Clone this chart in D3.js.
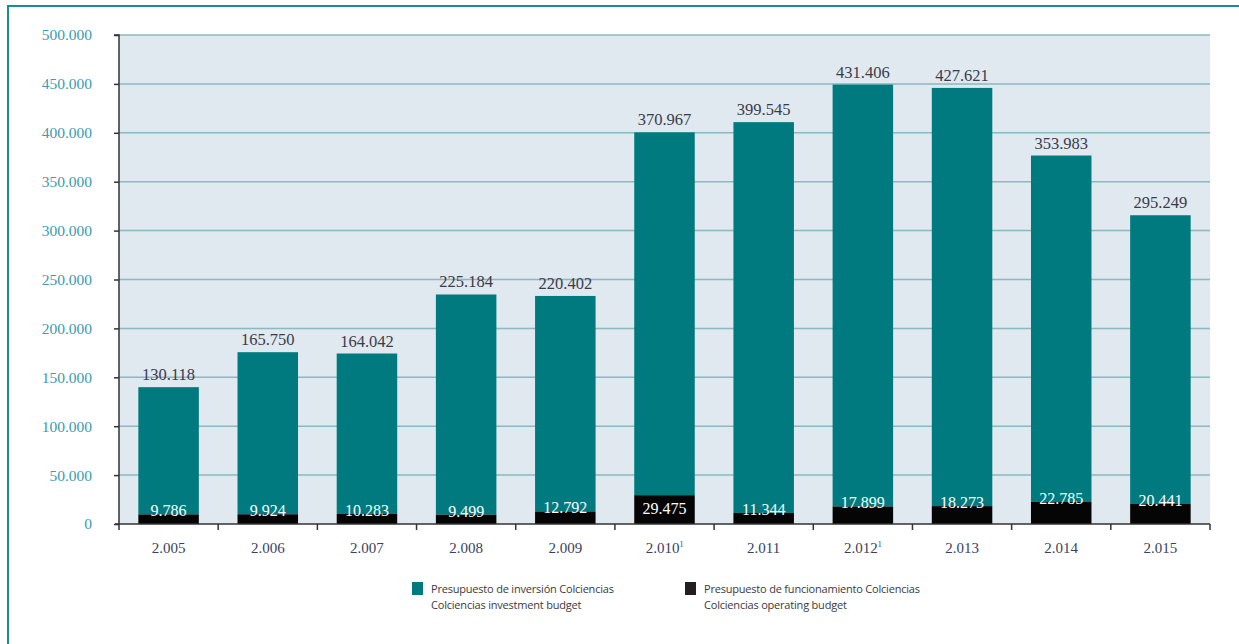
<!DOCTYPE html>
<html><head><meta charset="utf-8">
<script src="https://cdn.jsdelivr.net/npm/d3@7"></script>
<style>body{margin:0;background:#fff}svg{display:block}</style>
</head><body>
<svg id="c" width="1239" height="644"></svg>
<script>
const years = ["2.005","2.006","2.007","2.008","2.009","2.010","2.011","2.012","2.013","2.014","2.015"];
const yearNotes = ["","","","","","1","","1","","",""];
const investment = [130118,165750,164042,225184,220402,370967,399545,431406,427621,353983,295249];
const operating = [9786,9924,10283,9499,12792,29475,11344,17899,18273,22785,20441];
const yTicks = [0,50000,100000,150000,200000,250000,300000,350000,400000,450000,500000];
const legendLabels = [["Presupuesto de inversión Colciencias","Colciencias investment budget"],["Presupuesto de funcionamiento Colciencias","Colciencias operating budget"]];
const colors = ["#007a7e","#050505"];

const fmt = v => d3.format(",")(v).replace(/,/g,".");
const svg = d3.select("#c");
const L = 119, R = 1210, T = 35, B = 524;

// outer frame
svg.append("rect").attr("x",8).attr("y",6).attr("width",1250).attr("height",660)
  .attr("fill","none").attr("stroke","#1b8c92").attr("stroke-width",2);

const x = d3.scaleBand().domain(years).range([L,R]).padding(0);
const y = d3.scaleLinear().domain([0,500000]).range([B,T]);
const bw = x.bandwidth()*0.61;

svg.append("rect").attr("x",L).attr("y",T).attr("width",R-L).attr("height",B-T).attr("fill","#dfe9ef");
svg.append("g").selectAll("line").data(yTicks.filter(d=>d>0)).join("line")
  .attr("x1",L).attr("x2",R).attr("y1",d=>y(d)).attr("y2",d=>y(d))
  .attr("stroke","#8ab9bf").attr("stroke-width",1.5);

const data = years.map((yr,i)=>({yr, inv:investment[i], op:operating[i], note:yearNotes[i]}));
const g = svg.append("g");
g.selectAll(".inv").data(data).join("rect")
  .attr("x",d=>x(d.yr)+(x.bandwidth()-bw)/2).attr("width",bw)
  .attr("y",d=>y(d.inv+d.op)).attr("height",d=>y(d.op)-y(d.inv+d.op))
  .attr("fill",colors[0]);
g.selectAll(".op").data(data).join("rect")
  .attr("x",d=>x(d.yr)+(x.bandwidth()-bw)/2).attr("width",bw)
  .attr("y",d=>y(d.op)).attr("height",d=>B-y(d.op))
  .attr("fill",colors[1]);

const serif = "'Liberation Serif','DejaVu Serif',serif";
g.selectAll(".tl").data(data).join("text")
  .attr("x",d=>x(d.yr)+x.bandwidth()/2).attr("y",d=>y(d.inv+d.op)-7)
  .attr("text-anchor","middle").attr("font-family",serif).attr("font-size",16.5)
  .attr("fill","#3b3b4a").text(d=>fmt(d.inv));
g.selectAll(".bl").data(data).join("text")
  .attr("x",d=>x(d.yr)+x.bandwidth()/2)
  .attr("y",d=> d.op>25000 ? y(d.op)+19 : Math.min(y(d.op)+2, 518))
  .attr("text-anchor","middle").attr("font-family",serif).attr("font-size",16)
  .attr("fill","#ffffff").text(d=>fmt(d.op));

// y axis
const ya = svg.append("g").attr("transform",`translate(${L},0)`)
  .call(d3.axisLeft(y).tickValues(yTicks).tickSize(5).tickPadding(22).tickFormat(d=>d===0?"0":fmt(d)));
ya.select(".domain").attr("stroke","#333").attr("stroke-width",1.5).attr("d",`M-5,${T}H0V${B}`);
ya.selectAll(".tick line").attr("stroke","#333").attr("stroke-width",1.5);
ya.selectAll("text").attr("font-family",serif).attr("font-size",15.5).attr("fill","#3d9bb0");

// x axis
const xa = svg.append("g").attr("transform",`translate(0,${B})`);
xa.append("line").attr("x1",L-4).attr("x2",R).attr("y1",0).attr("y2",0).attr("stroke","#333").attr("stroke-width",1.5);
const bounds = years.map(d=>x(d)).concat([R]);
xa.selectAll(".tk").data(bounds).join("line")
  .attr("x1",d=>d).attr("x2",d=>d).attr("y1",0).attr("y2",6).attr("stroke","#333").attr("stroke-width",1.5);
const xl = xa.selectAll(".xl").data(data).join("text")
  .attr("x",d=>x(d.yr)+x.bandwidth()/2).attr("y",29)
  .attr("text-anchor","middle").attr("font-family",serif).attr("font-size",15).attr("fill","#3a3f5e");
xl.append("tspan").text(d=>d.yr);
xl.append("tspan").attr("font-size",8).attr("dy",-6).text(d=>d.note);

// legend
const sans = "'Liberation Sans Narrow','Open Sans','DejaVu Sans Condensed',sans-serif";
const lx = [412,685];
legendLabels.forEach((lab,i)=>{
  const lg = svg.append("g").attr("transform",`translate(${lx[i]},582)`);
  lg.append("rect").attr("width",11).attr("height",13).attr("fill",i===0?colors[0]:"#231f20");
  lg.append("text").attr("x",19).attr("y",11).attr("font-family",sans).attr("font-size",11)
    .attr("letter-spacing",-0.2).attr("fill","#3a3a3a").text(lab[0]);
  lg.append("text").attr("x",19).attr("y",27).attr("font-family",sans).attr("font-size",11)
    .attr("letter-spacing",-0.2).attr("fill","#3a3a3a").text(lab[1]);
});
</script>
</body></html>
